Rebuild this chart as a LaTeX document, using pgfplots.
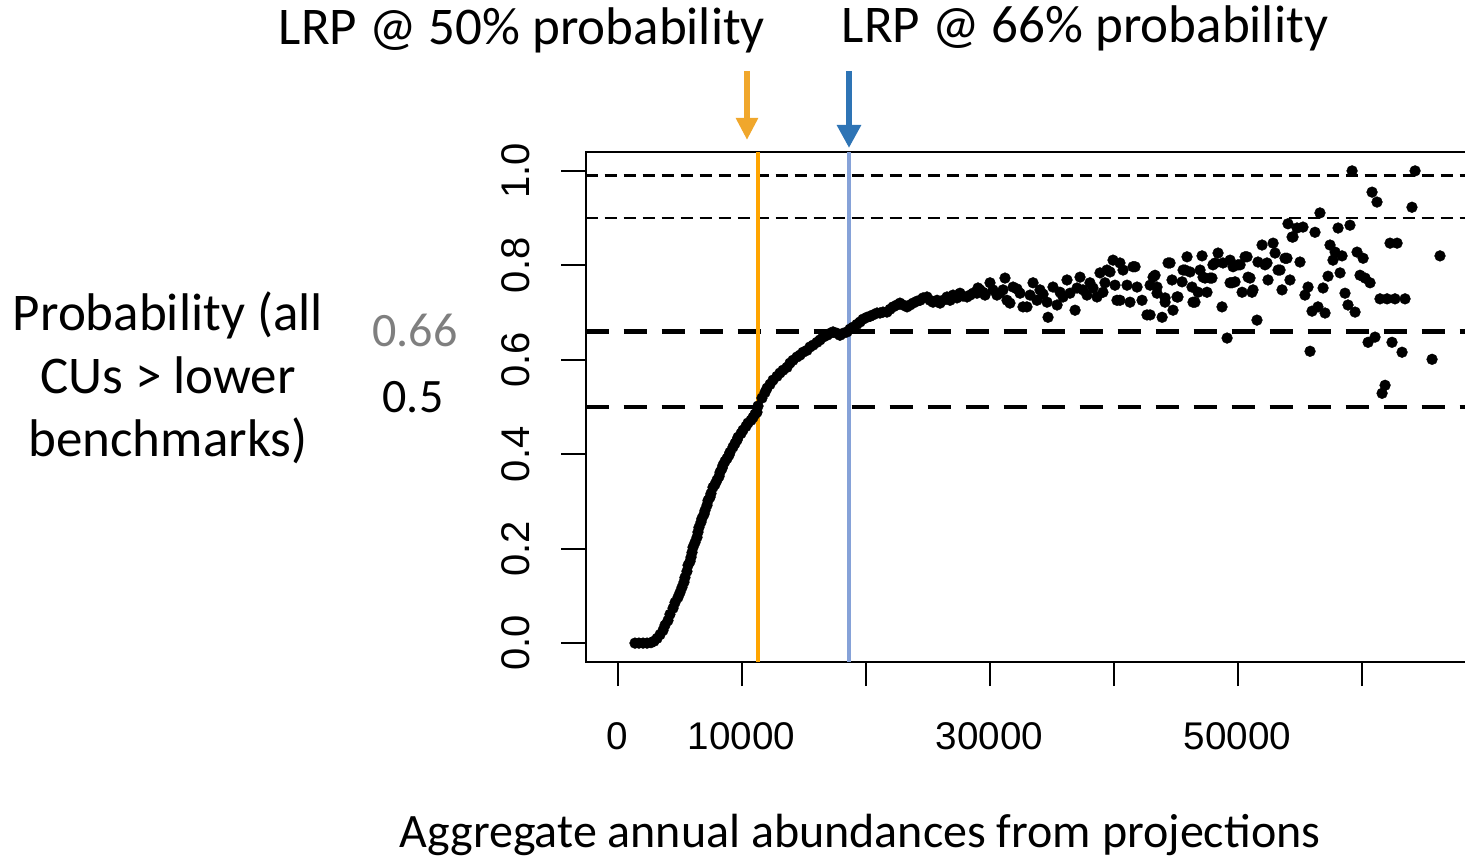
\documentclass[border=0pt]{standalone}
\usepackage{fontspec}
\setmainfont{Carlito}
\newfontfamily\arialfont{Liberation Sans}
\usepackage{pgfplots}
\pgfplotsset{compat=1.18}
\usetikzlibrary{arrows.meta}
\definecolor{vorange}{HTML}{FFA500}
\definecolor{vblue}{HTML}{86A2D8}
\definecolor{aorange}{HTML}{F0A72C}
\definecolor{ablue}{HTML}{2E74B5}
\definecolor{lgray}{HTML}{7F7F7F}
\pgfplotstableread{
x y
1410 0.000
1730 0.000
2060 0.000
2380 0.000
2700 0.001
2940 0.004
3190 0.010
3430 0.018
3670 0.027
3830 0.038
4070 0.048
4230 0.061
4480 0.074
4640 0.086
4880 0.097
5040 0.107
5200 0.118
5360 0.129
5440 0.139
5600 0.152
5690 0.165
5850 0.173
5930 0.182
6010 0.192
6090 0.203
6250 0.213
6410 0.224
6490 0.235
6570 0.245
6730 0.256
6810 0.264
6980 0.273
7060 0.281
7220 0.292
7300 0.302
7460 0.309
7540 0.317
7700 0.330
7860 0.336
8020 0.345
8190 0.353
8270 0.362
8430 0.370
8510 0.377
8670 0.385
8830 0.391
8990 0.398
9070 0.404
9310 0.415
9480 0.423
9640 0.430
9720 0.436
9960 0.444
10120 0.451
10360 0.459
10520 0.466
10770 0.472
10930 0.478
11090 0.485
11250 0.489
11330 0.502
11650 0.519
11900 0.531
12060 0.540
12300 0.548
12540 0.557
12860 0.565
13100 0.572
13350 0.578
13670 0.584
13910 0.593
14150 0.599
14480 0.606
14720 0.610
14960 0.616
15280 0.620
15520 0.627
15770 0.631
16090 0.637
16330 0.642
16570 0.648
16900 0.652
17140 0.656
17380 0.659
17700 0.656
17940 0.652
18190 0.656
18510 0.659
18750 0.665
18990 0.669
19310 0.675
19560 0.680
19800 0.686
20120 0.690
20360 0.692
20600 0.695
20930 0.699
21170 0.699
21410 0.701
21730 0.701
21980 0.707
22220 0.712
22540 0.716
22780 0.720
23020 0.716
23350 0.712
23590 0.716
23830 0.720
24150 0.724
24400 0.726
24640 0.731
24960 0.733
25200 0.726
25440 0.722
25770 0.726
26010 0.720
26250 0.726
26570 0.733
26820 0.726
27060 0.737
27380 0.731
27620 0.741
27860 0.735
28190 0.733
28430 0.737
28670 0.741
28990 0.741
29070 0.752
29230 0.748
29470 0.743
29640 0.737
30040 0.763
30280 0.748
30600 0.737
30850 0.741
31090 0.748
31250 0.773
31410 0.726
31650 0.720
31900 0.754
32220 0.750
32460 0.741
32700 0.712
33020 0.712
33270 0.737
33510 0.763
33830 0.726
34070 0.748
34320 0.739
34640 0.722
34720 0.690
35120 0.754
35450 0.716
35690 0.743
35930 0.733
36250 0.769
36490 0.741
36900 0.705
37060 0.752
37300 0.775
37540 0.748
37860 0.737
38100 0.763
38350 0.752
38670 0.733
38910 0.784
39150 0.743
39310 0.763
39470 0.790
39720 0.786
39960 0.811
40120 0.758
40280 0.726
40520 0.805
40770 0.790
40520 0.726
41330 0.722
41090 0.758
41570 0.797
41740 0.797
41900 0.754
42300 0.726
42700 0.695
42950 0.758
42950 0.695
43190 0.775
43350 0.779
43510 0.741
43510 0.754
43920 0.690
44160 0.722
44160 0.731
44400 0.805
44560 0.805
44720 0.769
44800 0.705
45120 0.733
45200 0.733
45530 0.765
45610 0.790
45770 0.790
45930 0.818
46170 0.786
46330 0.754
46410 0.722
46570 0.722
46820 0.743
46980 0.790
47140 0.820
47220 0.775
47380 0.773
47540 0.743
47780 0.773
47940 0.773
48020 0.801
48190 0.805
48430 0.826
48750 0.712
48830 0.805
49160 0.646
49400 0.763
49400 0.811
49560 0.763
49640 0.797
49800 0.765
50040 0.801
50210 0.801
50370 0.743
50610 0.818
50770 0.818
50850 0.775
51010 0.773
51170 0.743
51250 0.748
51570 0.684
51650 0.807
51980 0.843
52220 0.801
52380 0.805
52460 0.769
52870 0.847
53030 0.826
53270 0.790
53430 0.790
53590 0.748
53830 0.815
53990 0.815
54070 0.888
54230 0.769
54400 0.860
54480 0.860
54800 0.879
55040 0.807
55280 0.881
55440 0.737
55690 0.754
55850 0.618
56010 0.703
56250 0.870
56490 0.712
56650 0.911
56900 0.752
57060 0.699
57300 0.777
57460 0.843
57700 0.811
57870 0.828
58110 0.879
58270 0.784
58430 0.820
58670 0.741
58910 0.716
59070 0.885
59240 1.000
59480 0.701
59640 0.828
59880 0.779
60130 0.815
60290 0.773
60530 0.637
60690 0.763
60850 0.955
61090 0.648
61250 0.934
61490 0.729
61660 0.529
61900 0.546
62060 0.729
62300 0.847
62460 0.637
62700 0.729
62870 0.847
63270 0.616
63510 0.729
64070 0.923
64320 1.000
65690 0.601
66330 0.820
}\probdata
\begin{document}
\begin{tikzpicture}
\useasboundingbox (-292.75pt,-100pt) rectangle (439.75pt,331pt);
\clip (-292.75pt,-100pt) rectangle (439.75pt,331pt);
\begin{axis}[
  at={(0pt,0pt)}, anchor=south west,
  scale only axis, width=442.25pt, height=255pt,
  xmin=-2581, xmax=68750, ymin=-0.04, ymax=1.04,
  scaled x ticks=false, scaled y ticks=false,
  axis line style={line width=1pt},
  every tick/.style={line width=1pt, black},
  tick align=outside, major tick length=12pt,
  xtick={0,10000,20000,30000,40000,50000,60000},
  xticklabels={0,10000,,30000,,50000,},
  ytick={0,0.2,0.4,0.6,0.8,1.0},
  yticklabels={0.0,0.2,0.4,0.6,0.8,1.0},
  xtick pos=bottom, ytick pos=left,
  minor tick num=0,
  xticklabel style={font=\arialfont\fontsize{19.3}{19.3}\selectfont, inner sep=0pt, anchor=north},
  yticklabel style={font=\arialfont\fontsize{20}{20}\selectfont, inner sep=0pt, rotate=90, anchor=south},
  xticklabel shift=18pt, yticklabel shift=15.75pt,
]
\addplot[black, line width=1.2pt, dash pattern=on 6pt off 3.5pt] coordinates {(-2581,0.99) (68750,0.99)};
\addplot[black, line width=1.2pt, dash pattern=on 6pt off 3.5pt] coordinates {(-2581,0.90) (68750,0.90)};
\addplot[black, line width=2.35pt, dash pattern=on 11.5pt off 7.5pt] coordinates {(-2581,0.66) (68750,0.66)};
\addplot[black, line width=2.35pt, dash pattern=on 11.5pt off 7.5pt] coordinates {(-2581,0.50) (68750,0.50)};
\addplot[only marks, mark=*, mark size=2.7pt, black, mark options={fill=black, draw=black, line width=0.2pt}] table[x=x, y=y] {\probdata};
\addplot[vorange, line width=2.2pt] coordinates {(11330,-0.04) (11330,1.04)};
\addplot[vblue, line width=2pt] coordinates {(18670,-0.04) (18670,1.04)};
\end{axis}
\draw[aorange, line width=3pt, -{Triangle[width=10.5pt,length=11pt]}] (80.75pt,295.5pt) -- (80.75pt,261pt);
\draw[ablue, line width=3pt, -{Triangle[width=11.5pt,length=11.5pt]}] (131.75pt,295.5pt) -- (131.75pt,257pt);
\node[font=\fontsize{26.5}{26.5}\selectfont] at (-31.75pt,316pt) {LRP @ 50\% probability};
\node[font=\fontsize{26.5}{26.5}\selectfont] at (249.75pt,317pt) {LRP @ 66\% probability};
\node[font=\fontsize{26.5}{31.5}\selectfont, align=center] at (-208.75pt,142pt) {Probability (all\\CUs > lower\\benchmarks)};
\node[font=\fontsize{24}{24}\selectfont, text=lgray] at (-85.25pt,166pt) {0.66};
\node[font=\fontsize{24}{24}\selectfont] at (-86.25pt,132.5pt) {0.5};
\node[font=\fontsize{24}{24}\selectfont] at (137.25pt,-86.5pt) {Aggregate annual abundances from projections};
\end{tikzpicture}
\end{document}
